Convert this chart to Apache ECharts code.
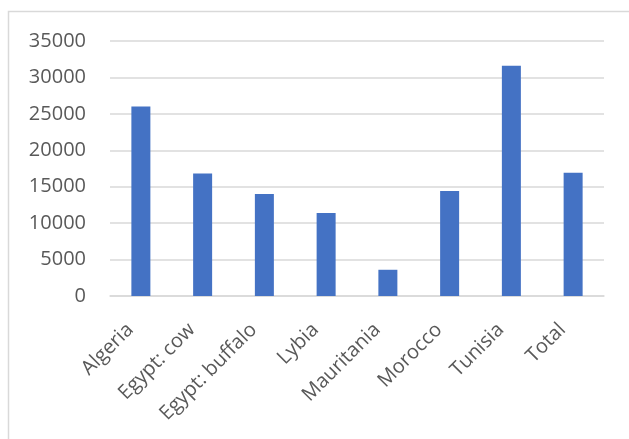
<!DOCTYPE html>
<html>
<head>
<meta charset="utf-8">
<script src="https://cdn.jsdelivr.net/npm/echarts@6/dist/echarts.min.js"></script>
<style>
  html, body { margin: 0; padding: 0; background: #fff; }
  #chart { width: 629px; height: 439px; }
</style>
</head>
<body>
<div id="chart"></div>
<script>
// Categories along the x axis
const categories = ['Algeria', 'Egypt: cow', 'Egypt: buffalo', 'Lybia', 'Mauritania', 'Morocco', 'Tunisia', 'Total'];
// Bar values
const values = [26000, 16800, 14000, 11400, 3600, 14400, 31600, 16900];
// Value axis range
const yMin = 0;
const yMax = 35000;
const yStep = 5000;

const chart = echarts.init(document.getElementById('chart'), null, { renderer: 'canvas' });

chart.setOption({
  backgroundColor: '#ffffff',
  animation: false,
  textStyle: { fontFamily: '"Open Sans", sans-serif' },
  graphic: [{
    type: 'rect',
    shape: { x: 8.5, y: 11.5, width: 700, height: 500 },
    style: { fill: 'none', stroke: '#d9d9d9', lineWidth: 1.5 },
    silent: true
  }],
  grid: { left: 110, right: 25, top: 41, bottom: 143, containLabel: false },
  xAxis: {
    type: 'category',
    data: categories,
    axisLine: { show: true, lineStyle: { color: '#d9d9d9', width: 1.5 } },
    axisTick: { show: false },
    axisLabel: {
      rotate: 45,
      margin: 20,
      interval: 0,
      padding: [0, 15, 0, 0],
      color: '#595959',
      fontSize: 20,
      fontFamily: '"Open Sans", sans-serif'
    }
  },
  yAxis: {
    type: 'value',
    min: yMin,
    max: yMax,
    interval: yStep,
    axisLine: { show: false },
    axisTick: { show: false },
    splitLine: { lineStyle: { color: '#d9d9d9', width: 1.5 } },
    axisLabel: {
      margin: 24,
      color: '#595959',
      fontSize: 20,
      fontFamily: '"Open Sans", sans-serif',
      formatter: (v) => String(v)
    }
  },
  series: [{
    type: 'bar',
    data: values,
    barWidth: 19,
    itemStyle: { color: '#4472c4' }
  }]
});
</script>
</body>
</html>
